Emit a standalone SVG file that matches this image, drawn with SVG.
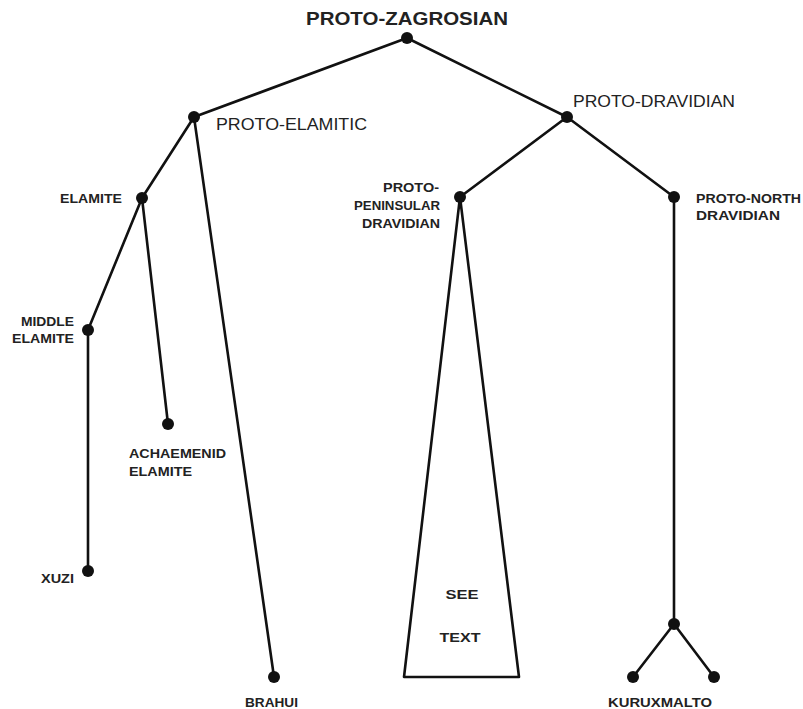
<svg xmlns="http://www.w3.org/2000/svg" width="803" height="709" viewBox="0 0 803 709">
<style>
.e{stroke:#111;stroke-width:2.6;fill:none;stroke-linecap:round;stroke-linejoin:round}
.d{fill:#111}
text{font-family:"Liberation Sans",Arial,sans-serif;font-weight:bold;fill:#222}
.s{font-size:12.5px}
.m{font-size:16px}
.l{font-size:19px}
</style>
<rect width="803" height="709" fill="#fff"/>
<g id="connectors">
<line class="e" x1="407" y1="38" x2="194" y2="117"/>
<line class="e" x1="407" y1="38" x2="567" y2="117"/>
<line class="e" x1="194" y1="117" x2="142" y2="198"/>
<line class="e" x1="194" y1="117" x2="274" y2="677"/>
<line class="e" x1="142" y1="198" x2="88" y2="330"/>
<line class="e" x1="142" y1="198" x2="168" y2="424"/>
<line class="e" x1="88" y1="330" x2="88" y2="571"/>
<line class="e" x1="567" y1="117" x2="460" y2="197"/>
<line class="e" x1="567" y1="117" x2="674" y2="197"/>
<line class="e" x1="674" y1="197" x2="674" y2="624"/>
<line class="e" x1="674" y1="624" x2="633" y2="677"/>
<line class="e" x1="674" y1="624" x2="714" y2="677"/>
<polygon class="e" points="460,197 404,677 519,677"/>
</g>
<g id="proto-zagrosian"><circle class="d" cx="407" cy="38" r="6"/><text class="l" x="407" y="25" text-anchor="middle" textLength="202" lengthAdjust="spacingAndGlyphs">PROTO-ZAGROSIAN</text></g>
<g id="proto-elamitic"><circle class="d" cx="194" cy="117" r="6"/><text class="m" x="216" y="130" textLength="151" lengthAdjust="spacingAndGlyphs" style="font-weight:normal">PROTO-ELAMITIC</text></g>
<g id="proto-dravidian"><circle class="d" cx="567" cy="117" r="6"/><text class="m" x="573" y="107" textLength="162" lengthAdjust="spacingAndGlyphs" style="font-weight:normal">PROTO-DRAVIDIAN</text></g>
<g id="elamite"><circle class="d" cx="142" cy="198" r="6"/><text class="s" x="122" y="203" text-anchor="end" textLength="62" lengthAdjust="spacingAndGlyphs">ELAMITE</text></g>
<g id="middle-elamite"><circle class="d" cx="88" cy="330" r="6"/><text class="s" x="74" y="326" text-anchor="end" textLength="53" lengthAdjust="spacingAndGlyphs">MIDDLE</text><text class="s" x="74" y="343" text-anchor="end" textLength="62" lengthAdjust="spacingAndGlyphs">ELAMITE</text></g>
<g id="achaemenid-elamite"><circle class="d" cx="168" cy="424" r="6"/><text class="s" x="129" y="458" textLength="97" lengthAdjust="spacingAndGlyphs">ACHAEMENID</text><text class="s" x="129" y="476" textLength="63" lengthAdjust="spacingAndGlyphs">ELAMITE</text></g>
<g id="xuzi"><circle class="d" cx="88" cy="571" r="6"/><text class="s" x="74" y="583" text-anchor="end" textLength="33" lengthAdjust="spacingAndGlyphs">XUZI</text></g>
<g id="brahui"><circle class="d" cx="274" cy="677" r="6"/><text class="s" x="245" y="707" textLength="53" lengthAdjust="spacingAndGlyphs">BRAHUI</text></g>
<g id="proto-peninsular-dravidian"><circle class="d" cx="460" cy="197" r="6"/><text class="s" x="439" y="192" text-anchor="end" textLength="56" lengthAdjust="spacingAndGlyphs">PROTO-</text><text class="s" x="440" y="210" text-anchor="end" textLength="86" lengthAdjust="spacingAndGlyphs">PENINSULAR</text><text class="s" x="440" y="228" text-anchor="end" textLength="78" lengthAdjust="spacingAndGlyphs">DRAVIDIAN</text></g>
<g id="see-text"><text class="s" x="462" y="599" text-anchor="middle" textLength="33" lengthAdjust="spacingAndGlyphs">SEE</text><text class="s" x="460" y="642" text-anchor="middle" textLength="41" lengthAdjust="spacingAndGlyphs">TEXT</text></g>
<g id="proto-north-dravidian"><circle class="d" cx="674" cy="197" r="6"/><text class="s" x="696" y="203" textLength="105" lengthAdjust="spacingAndGlyphs">PROTO-NORTH</text><text class="s" x="696" y="220" textLength="84" lengthAdjust="spacingAndGlyphs">DRAVIDIAN</text></g>
<g id="north-split"><circle class="d" cx="674" cy="624" r="6"/></g>
<g id="kurux"><circle class="d" cx="633" cy="677" r="6"/><text class="s" x="608" y="707" textLength="104" lengthAdjust="spacingAndGlyphs">KURUXMALTO</text></g>
<g id="malto"><circle class="d" cx="714" cy="677" r="6"/></g>
</svg>
